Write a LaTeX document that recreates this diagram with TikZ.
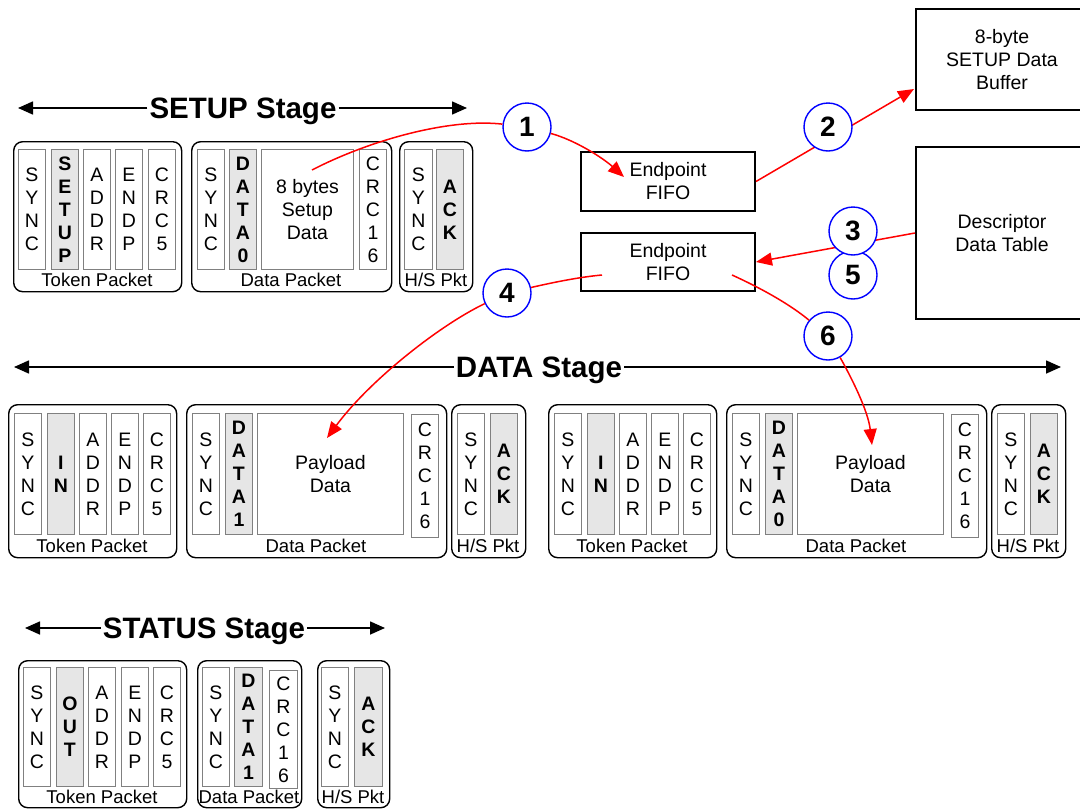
\documentclass[tikz,border=0pt]{standalone}
\usepackage{fontspec}
\setmainfont{Liberation Sans}
\usetikzlibrary{arrows.meta}
\definecolor{pidgray}{HTML}{E6E6E6}
\definecolor{fldline}{HTML}{808080}
\begin{document}
\begin{tikzpicture}[x=1pt, y=-1pt,
  pkt/.style={draw, line width=1.4pt, rounded corners=9pt, anchor=north west, inner sep=0pt},
  fld/.style={draw=fldline, line width=0.9pt, fill=white, anchor=north west, align=center, inner sep=0pt, minimum width=27, minimum height=120, font=\fontsize{19.5}{23}\selectfont},
  pid/.style={fld, fill=pidgray, font=\bfseries\fontsize{19.5}{23}\selectfont},
  plabel/.style={inner sep=0pt, font=\fontsize{18.5}{18.5}\selectfont},
  bigbox/.style={draw, line width=2pt, anchor=north west, align=center, inner sep=0pt, font=\fontsize{19.5}{23}\selectfont},
  stage/.style={inner sep=2pt, text height=21pt, text depth=0pt, font=\bfseries\fontsize{29.5}{29.5}\selectfont},
  stagearr/.style={line width=1.6pt, -{Triangle[length=15pt, width=13pt]}},
  flow/.style={red, line width=1.5pt, -{Triangle[length=16pt, width=13pt]}},
  num/.style={circle, draw=blue, line width=1.4pt, fill=white, minimum size=48, inner sep=0pt, font=\bfseries\fontsize{28}{28}\selectfont}]
\useasboundingbox (0,0) rectangle (1080,809);
% SETUP stage
\node[pkt, minimum width=168, minimum height=150] (U_tok) at (13,141) {};
\node[pkt, minimum width=200, minimum height=150] (U_dat) at (191,141) {};
\node[pkt, minimum width=73, minimum height=150] (U_hs) at (399,141) {};
\node[fld] (U_tok_1) at (18,149) {S\\Y\\N\\C};
\node[pid] (U_tok_2) at (51,149) {S\\E\\T\\U\\P};
\node[fld] (U_tok_3) at (83,149) {A\\D\\D\\R};
\node[fld] (U_tok_4) at (115,149) {E\\N\\D\\P};
\node[fld] (U_tok_5) at (148,149) {C\\R\\C\\5};
\node[fld] (U_dat_1) at (197,149) {S\\Y\\N\\C};
\node[pid] (U_dat_2) at (229,149) {D\\A\\T\\A\\0};
\node[fld, minimum width=92] (U_dat_3) at (261,149) {8 bytes\\Setup\\Data};
\node[fld] (U_dat_4) at (359,149) {C\\R\\C\\1\\6};
\node[fld, minimum width=28] (U_hs_1) at (404,149) {S\\Y\\N\\C};
\node[pid] (U_hs_2) at (436,149) {A\\C\\K};
\node[plabel] (U_tok_l) at (97,280) {Token Packet};
\node[plabel] (U_dat_l) at (291,280) {Data Packet};
\node[plabel] (U_hs_l) at (436,280) {H/S Pkt};
% DATA stage, first transaction
\node[pkt, minimum width=168, minimum height=153] (D_tok) at (8,404) {};
\node[pkt, minimum width=260, minimum height=153] (D_dat) at (186,404) {};
\node[pkt, minimum width=74, minimum height=153] (D_hs) at (451,404) {};
\node[fld, minimum height=121] (D_tok_1) at (14,413) {S\\Y\\N\\C};
\node[pid, minimum height=121] (D_tok_2) at (47,413) {I\\N};
\node[fld, minimum height=121] (D_tok_3) at (79,413) {A\\D\\D\\R};
\node[fld, minimum height=121] (D_tok_4) at (111,413) {E\\N\\D\\P};
\node[fld, minimum height=121] (D_tok_5) at (143,413) {C\\R\\C\\5};
\node[fld, minimum height=121] (D_dat_1) at (192,413) {S\\Y\\N\\C};
\node[pid, minimum height=121] (D_dat_2) at (225,413) {D\\A\\T\\A\\1};
\node[fld, minimum width=146, minimum height=121] (D_dat_3) at (257,413) {Payload\\Data};
\node[fld, minimum height=123] (D_dat_4) at (411,414) {C\\R\\C\\1\\6};
\node[fld, minimum height=121] (D_hs_1) at (457,413) {S\\Y\\N\\C};
\node[pid, minimum height=121] (D_hs_2) at (490,413) {A\\C\\K};
\node[plabel] (D_tok_l) at (92,546) {Token Packet};
\node[plabel] (D_dat_l) at (316,546) {Data Packet};
\node[plabel] (D_hs_l) at (488,546) {H/S Pkt};
% DATA stage, second transaction
\node[pkt, minimum width=168, minimum height=153] (E_tok) at (548,404) {};
\node[pkt, minimum width=260, minimum height=153] (E_dat) at (726,404) {};
\node[pkt, minimum width=74, minimum height=153] (E_hs) at (991,404) {};
\node[fld, minimum height=121] (E_tok_1) at (554,413) {S\\Y\\N\\C};
\node[pid, minimum height=121] (E_tok_2) at (587,413) {I\\N};
\node[fld, minimum height=121] (E_tok_3) at (619,413) {A\\D\\D\\R};
\node[fld, minimum height=121] (E_tok_4) at (651,413) {E\\N\\D\\P};
\node[fld, minimum height=121] (E_tok_5) at (683,413) {C\\R\\C\\5};
\node[fld, minimum height=121] (E_dat_1) at (732,413) {S\\Y\\N\\C};
\node[pid, minimum height=121] (E_dat_2) at (765,413) {D\\A\\T\\A\\0};
\node[fld, minimum width=146, minimum height=121] (E_dat_3) at (797,413) {Payload\\Data};
\node[fld, minimum height=123] (E_dat_4) at (951,414) {C\\R\\C\\1\\6};
\node[fld, minimum height=121] (E_hs_1) at (997,413) {S\\Y\\N\\C};
\node[pid, minimum height=121] (E_hs_2) at (1030,413) {A\\C\\K};
\node[plabel] (E_tok_l) at (632,546) {Token Packet};
\node[plabel] (E_dat_l) at (856,546) {Data Packet};
\node[plabel] (E_hs_l) at (1028,546) {H/S Pkt};
% STATUS stage
\node[pkt, minimum width=168, minimum height=147] (T_tok) at (18,660) {};
\node[pkt, minimum width=104, minimum height=147] (T_dat) at (197,660) {};
\node[pkt, minimum width=72, minimum height=147] (T_hs) at (317,660) {};
\node[fld, minimum height=119] (T_tok_1) at (23,667) {S\\Y\\N\\C};
\node[pid, minimum height=119] (T_tok_2) at (56,667) {O\\U\\T};
\node[fld, minimum height=119] (T_tok_3) at (88,667) {A\\D\\D\\R};
\node[fld, minimum height=119] (T_tok_4) at (121,667) {E\\N\\D\\P};
\node[fld, minimum height=119] (T_tok_5) at (153,667) {C\\R\\C\\5};
\node[fld, minimum height=119] (T_dat_1) at (202,667) {S\\Y\\N\\C};
\node[pid, minimum width=28, minimum height=119] (T_dat_2) at (234,667) {D\\A\\T\\A\\1};
\node[fld, minimum width=28, minimum height=118] (T_dat_3) at (269,670) {C\\R\\C\\1\\6};
\node[fld, minimum height=119] (T_hs_1) at (321,667) {S\\Y\\N\\C};
\node[pid, minimum width=28, minimum height=119] (T_hs_2) at (354,667) {A\\C\\K};
\node[plabel] (T_tok_l) at (102,797) {Token Packet};
\node[plabel] (T_dat_l) at (249,797) {Data Packet};
\node[plabel] (T_hs_l) at (353,797) {H/S Pkt};
% buffers
\node[bigbox, minimum width=174, minimum height=59] (fifoA) at (580,151) {Endpoint\\FIFO};
\node[bigbox, minimum width=174, minimum height=58] (fifoB) at (580,232) {Endpoint\\FIFO};
\node[bigbox, minimum width=172, minimum height=101] (bufA) at (915,8) {8-byte\\SETUP Data\\Buffer};
\node[bigbox, minimum width=172, minimum height=172] (descT) at (915,146) {Descriptor\\Data Table};
% stage titles
\node[stage] (stU) at (243,108) {SETUP Stage};
\coordinate (stU_a) at (18,108);
\coordinate (stU_b) at (467,108);
\draw[stagearr] (stU) -- (stU_a);
\draw[stagearr] (stU) -- (stU_b);
\node[stage] (stD) at (539,367) {DATA Stage};
\coordinate (stD_a) at (14,367);
\coordinate (stD_b) at (1061,367);
\draw[stagearr] (stD) -- (stD_a);
\draw[stagearr] (stD) -- (stD_b);
\node[stage] (stT) at (204,628) {STATUS Stage};
\coordinate (stT_a) at (25,628);
\coordinate (stT_b) at (385,628);
\draw[stagearr] (stT) -- (stT_a);
\draw[stagearr] (stT) -- (stT_b);
% transfers
\coordinate (bufIn) at (914,89);
\draw[flow] (fifoA.east) -- (bufIn);
\draw[flow] (descT.west) -- (fifoB.east);
\node[num] (n1) at (527,127) {1};
\node[num] (n2) at (828,127) {2};
\node[num] (n5) at (853,275) {5};
\node[num] (n3) at (853,231) {3};
\node[num] (n4) at (507,293) {4};
\node[num] (n6) at (828,336) {6};
\coordinate (a1s) at (312,170);
\coordinate (a1e) at (624,177);
\draw[flow] (a1s) .. controls (370,140) and (450,118) .. (n1) .. controls (575,140) and (603,158) .. (a1e);
\coordinate (a4s) at (602,275);
\coordinate (a4e) at (327,438);
\draw[flow] (a4s) .. controls (580,277) and (555,282) .. (n4) .. controls (440,325) and (370,380) .. (a4e);
\coordinate (a6s) at (732,275);
\coordinate (a6e) at (872,445);
\draw[flow] (a6s) .. controls (765,290) and (792,306) .. (n6) .. controls (850,375) and (868,410) .. (a6e);
\end{tikzpicture}
\end{document}
